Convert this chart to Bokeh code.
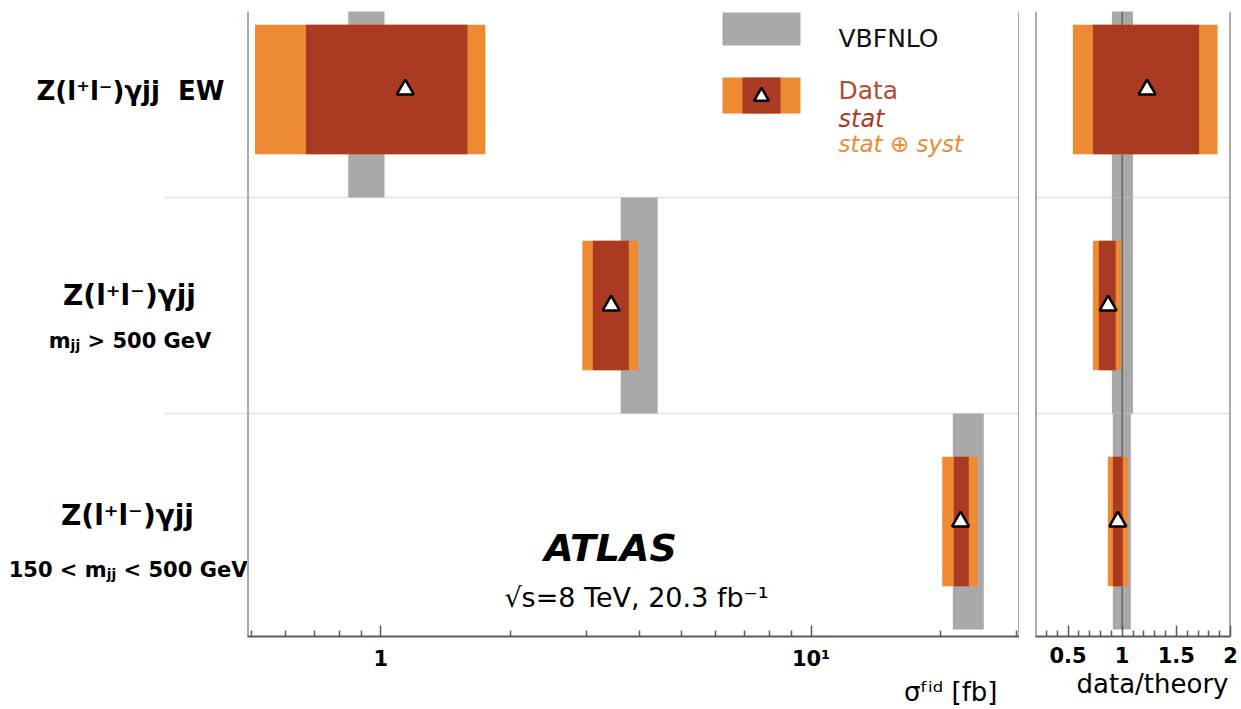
import math

from bokeh.core.properties import value
from bokeh.embed import file_html
from bokeh.layouts import row
from bokeh.models import CustomJSTickFormatter, FixedTicker, Range1d, Span, Title
from bokeh.plotting import figure
from bokeh.resources import INLINE

# ---------------------------------------------------------------- data
# one entry per selection, listed from the top row to the bottom row
row_index = [2, 1, 0]
process_labels = ["Z(l⁺l⁻)γjj\u00a0\u00a0EW", "Z(l⁺l⁻)γjj", "Z(l⁺l⁻)γjj"]

# fiducial cross sections [fb]
sigma_meas = [1.14, 3.43, 22.25]
sigma_stat_lo = [0.67, 3.11, 21.46]
sigma_stat_hi = [1.59, 3.77, 23.25]
sigma_tot_lo = [0.51, 2.94, 20.17]
sigma_tot_hi = [1.75, 3.96, 24.40]
vbfnlo_lo = [0.84, 3.61, 21.35]
vbfnlo_hi = [1.02, 4.40, 25.19]

# data / theory
ratio_meas = [1.23, 0.87, 0.96]
ratio_stat_lo = [0.73, 0.785, 0.914]
ratio_stat_hi = [1.71, 0.94, 1.006]
ratio_tot_lo = [0.545, 0.73, 0.868]
ratio_tot_hi = [1.88, 0.99, 1.053]
ratio_theory_lo = [0.905, 0.905, 0.914]
ratio_theory_hi = [1.10, 1.10, 1.08]

main_ticks = [1, 10]
main_minor_ticks = [0.5, 0.6, 0.7, 0.8, 0.9, 2, 3, 4, 5, 6, 7, 8, 9, 20, 30]
ratio_ticks = [0.5, 1, 1.5, 2]
ratio_minor_ticks = [0.3, 0.4, 0.6, 0.7, 0.8, 0.9, 1.1, 1.2, 1.3, 1.4,
                     1.6, 1.7, 1.8, 1.9]

# ---------------------------------------------------------------- style
ORANGE = "#EE8A32"
RED = "#AA3A22"
GRAY = "#A9A9A9"
FRAME = "#5a5a5a"
SEP = "#e2e2e2"
FONT_NAME = "DejaVu Sans"
FONT = value(FONT_NAME)

W_LAB, W_MAIN = 247, 772
RATIO_GAP, W_RATIO, RIGHT_PAD = 16, 195, 11
H, TOP, BOTTOM = 709, 11, 73
FRAME_H = H - TOP - BOTTOM

X0, X1 = 0.49, 30.5
Y_BOT = -0.5 - 7 / 216
Y_TOP = 2 + 78 / 216
yr = Range1d(Y_BOT, Y_TOP)

STAT_HALF = 0.3      # half height of the data boxes
ROW_HALF = 0.5       # half height of a row


def y_at(py):
    """screen row (pixels from the top of the page) -> y data value"""
    return Y_TOP - (py - TOP) * (Y_TOP - Y_BOT) / FRAME_H


def x_main(px):
    """screen column -> value on the logarithmic cross-section axis"""
    frac = (px - W_LAB) / W_MAIN
    return 10 ** (math.log10(X0) + frac * (math.log10(X1) - math.log10(X0)))


common = dict(height=H, toolbar_location=None, output_backend="svg",
              min_border_top=TOP, min_border_bottom=BOTTOM,
              outline_line_color=None, background_fill_color="white",
              border_fill_color="white")

# ---------------------------------------------------------------- row labels
lab = figure(width=W_LAB, x_range=Range1d(0, W_LAB), y_range=yr,
             x_axis_location=None, y_axis_location=None,
             min_border_left=0, min_border_right=0, **common)
lab.grid.visible = False

lab.segment(x0=[163, 163], x1=[W_LAB, W_LAB], y0=[0.5, 1.5], y1=[0.5, 1.5],
            line_color=SEP, line_width=1.5)

bold = dict(text_font=FONT, text_font_style="bold", text_color="black",
            text_baseline="alphabetic")

lab.text(x=[130], y=[y_at(90)], text=[process_labels[0]], text_align="center",
         text_font_size=value("26px"), **bold)
lab.text(x=[129, 127], y=[y_at(295), y_at(515)], text=process_labels[1:],
         text_align="center", text_font_size=value("28px"), **bold)

# selection cuts, with the dijet-mass subscript set smaller and lower
lab.text(x=[48.2, 87.0, 8.2, 84.3, 123.1],
         y=[y_at(340), y_at(340), y_at(569), y_at(569), y_at(569)],
         text=["m", "> 500 GeV", "150 <", "m", "< 500 GeV"],
         text_align="left", text_font_size=value("21px"), **bold)
lab.text(x=[70.1, 106.2], y=[y_at(344), y_at(573)], text=["jj", "jj"],
         text_align="left", text_font_size=value("14px"), **bold)

# ---------------------------------------------------------------- cross sections
p = figure(width=W_MAIN, x_axis_type="log", x_range=Range1d(X0, X1),
           y_range=yr, y_axis_location=None,
           min_border_left=0, min_border_right=0, **common)
p.grid.visible = False

for loc in (0.5, 1.5):
    p.add_layout(Span(location=loc, dimension="width", line_color=SEP,
                      line_width=1.5, level="underlay"))

rows_lo = [r - ROW_HALF for r in row_index]
rows_hi = [r + ROW_HALF for r in row_index]
box_lo = [r - STAT_HALF for r in row_index]
box_hi = [r + STAT_HALF for r in row_index]

p.quad(left=vbfnlo_lo, right=vbfnlo_hi, bottom=rows_lo, top=rows_hi,
       fill_color=GRAY, line_color=None)
p.quad(left=sigma_tot_lo, right=sigma_tot_hi, bottom=box_lo, top=box_hi,
       fill_color=ORANGE, line_color=None)
p.quad(left=sigma_stat_lo, right=sigma_stat_hi, bottom=box_lo, top=box_hi,
       fill_color=RED, line_color=None)
p.scatter(x=sigma_meas, y=row_index, marker="triangle", size=17,
          fill_color="white", line_color="black", line_width=2.5)

# legend
p.quad(left=[x_main(722)], right=[x_main(800)], top=[y_at(12)],
       bottom=[y_at(45)], fill_color=GRAY, line_color=None)
p.quad(left=[x_main(722)], right=[x_main(800)], top=[y_at(77)],
       bottom=[y_at(113)], fill_color=ORANGE, line_color=None)
p.quad(left=[x_main(742)], right=[x_main(780)], top=[y_at(77)],
       bottom=[y_at(113)], fill_color=RED, line_color=None)
p.scatter(x=[x_main(761)], y=[y_at(96)], marker="triangle", size=15,
          fill_color="white", line_color="black", line_width=2.5)

leg_x = x_main(838)
p.text(x=[leg_x], y=[y_at(38)], text=["VBFNLO"], text_font=FONT,
       text_font_size=value("25px"), text_color="#111111",
       text_baseline="alphabetic")
p.text(x=[leg_x], y=[y_at(90)], text=["Data"], text_font=FONT,
       text_font_size=value("25px"), text_color="#B84A33",
       text_baseline="alphabetic")
p.text(x=[leg_x], y=[y_at(118)], text=["stat"], text_font=FONT,
       text_font_style="italic", text_font_size=value("24px"),
       text_color=RED, text_baseline="alphabetic")
p.text(x=[leg_x], y=[y_at(143)], text=["stat ⊕ syst"], text_font=FONT,
       text_font_style="italic", text_font_size=value("23px"),
       text_color=ORANGE, text_baseline="alphabetic")

# experiment tag
p.text(x=[x_main(610)], y=[y_at(547)], text=["ATLAS"], text_font=FONT,
       text_font_style="bold italic", text_font_size=value("38px"),
       text_color="black", text_align="center", text_baseline="alphabetic")
p.text(x=[x_main(636)], y=[y_at(597)], text=["√s=8 TeV, 20.3 fb⁻¹"],
       text_font=FONT, text_font_size=value("27px"), text_color="black",
       text_align="center", text_baseline="alphabetic")

for loc in (X0, X1):
    p.add_layout(Span(location=loc, dimension="height", line_color=FRAME,
                      line_width=2))


def style_axis(ax):
    ax.axis_line_color = FRAME
    ax.axis_line_width = 2
    ax.major_tick_line_color = FRAME
    ax.minor_tick_line_color = FRAME
    ax.major_tick_line_width = 1.5
    ax.minor_tick_line_width = 1.5
    ax.major_tick_in = 11
    ax.major_tick_out = 0
    ax.minor_tick_in = 6
    ax.minor_tick_out = 0
    ax.major_label_text_font = FONT_NAME
    ax.major_label_text_font_style = "bold"
    ax.major_label_text_font_size = "21px"
    ax.major_label_text_color = "black"
    ax.major_label_standoff = 10


style_axis(p.xaxis[0])
p.xaxis.ticker = FixedTicker(ticks=main_ticks, minor_ticks=main_minor_ticks)
p.xaxis.formatter = CustomJSTickFormatter(
    code="return tick == 10 ? '10\u00b9' : tick.toString();")
p.add_layout(Title(text="σᶠⁱᵈ [fb]", align="right", offset=22, standoff=2,
                   text_font=FONT_NAME, text_font_style="normal",
                   text_font_size="26px", text_color="black"), "below")

# ---------------------------------------------------------------- ratio panel
r = figure(width=RATIO_GAP + W_RATIO + RIGHT_PAD, x_range=Range1d(0.2, 2.0),
           y_range=yr, y_axis_location=None,
           min_border_left=RATIO_GAP, min_border_right=RIGHT_PAD, **common)
r.grid.visible = False

for loc in (0.5, 1.5):
    r.add_layout(Span(location=loc, dimension="width", line_color=SEP,
                      line_width=1.5, level="underlay"))

r.quad(left=ratio_theory_lo, right=ratio_theory_hi, bottom=rows_lo,
       top=rows_hi, fill_color=GRAY, line_color=None)
r.segment(x0=[1], x1=[1], y0=[-ROW_HALF], y1=[Y_TOP], line_color="#444444",
          line_width=1)
r.quad(left=ratio_tot_lo, right=ratio_tot_hi, bottom=box_lo, top=box_hi,
       fill_color=ORANGE, line_color=None)
r.quad(left=ratio_stat_lo, right=ratio_stat_hi, bottom=box_lo, top=box_hi,
       fill_color=RED, line_color=None)
r.scatter(x=ratio_meas, y=row_index, marker="triangle", size=17,
          fill_color="white", line_color="black", line_width=2.5)

for loc in (0.2, 2.0):
    r.add_layout(Span(location=loc, dimension="height", line_color=FRAME,
                      line_width=2))

style_axis(r.xaxis[0])
r.xaxis.ticker = FixedTicker(ticks=ratio_ticks, minor_ticks=ratio_minor_ticks)
r.xaxis.formatter = CustomJSTickFormatter(code="return tick.toString();")
r.add_layout(Title(text="data/theory", align="right", offset=2, standoff=2,
                   text_font=FONT_NAME, text_font_style="normal",
                   text_font_size="26px", text_color="black"), "below")

layout = row(lab, p, r, spacing=0)

with open("out.html", "w") as f:
    f.write(file_html(layout, INLINE))
